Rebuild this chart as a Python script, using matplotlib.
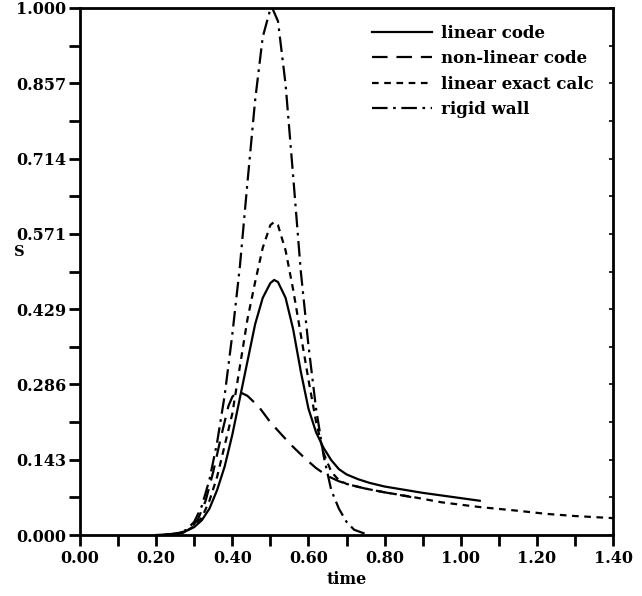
import matplotlib
matplotlib.use("Agg")
import matplotlib.pyplot as plt
from matplotlib.ticker import MultipleLocator, FixedLocator

# ---- data ----
lin_code_x = [0.20, 0.25, 0.28, 0.30, 0.32, 0.34, 0.36, 0.38, 0.40, 0.42, 0.44, 0.46,
              0.48, 0.50, 0.51, 0.52, 0.54, 0.56, 0.58, 0.60, 0.62, 0.64, 0.66, 0.68,
              0.70, 0.73, 0.76, 0.80, 0.85, 0.90, 0.95, 1.00, 1.05]
lin_code_y = [0.0, 0.002, 0.008, 0.015, 0.028, 0.050, 0.085, 0.130, 0.190, 0.260, 0.330, 0.400,
              0.450, 0.478, 0.484, 0.480, 0.450, 0.390, 0.310, 0.240, 0.195, 0.165, 0.142, 0.125,
              0.115, 0.106, 0.099, 0.092, 0.086, 0.080, 0.075, 0.070, 0.065]

nonlin_x = [0.24, 0.27, 0.29, 0.31, 0.33, 0.35, 0.37, 0.39, 0.40, 0.41, 0.42, 0.44, 0.47,
            0.50, 0.53, 0.56, 0.59, 0.62, 0.65, 0.68, 0.71, 0.75, 0.80, 0.87]
nonlin_y = [0.0, 0.004, 0.012, 0.030, 0.065, 0.120, 0.185, 0.245, 0.262, 0.270, 0.271, 0.264, 0.243,
            0.214, 0.190, 0.167, 0.146, 0.127, 0.112, 0.102, 0.095, 0.088, 0.081, 0.072]

exact_x = [0.22, 0.26, 0.28, 0.30, 0.32, 0.34, 0.36, 0.38, 0.40, 0.42, 0.44, 0.46, 0.48,
           0.50, 0.51, 0.52, 0.54, 0.56, 0.58, 0.60, 0.62, 0.64, 0.66, 0.68, 0.70, 0.75,
           0.80, 0.875, 0.95, 1.05, 1.15, 1.226, 1.30, 1.40]
exact_y = [0.0, 0.003, 0.008, 0.017, 0.033, 0.065, 0.110, 0.170, 0.230, 0.320, 0.410, 0.480, 0.545,
           0.588, 0.594, 0.588, 0.540, 0.465, 0.380, 0.295, 0.215, 0.155, 0.120, 0.104, 0.097, 0.088,
           0.081, 0.072, 0.062, 0.053, 0.046, 0.040, 0.036, 0.032]

rigid_x = [0.22, 0.26, 0.28, 0.30, 0.32, 0.34, 0.36, 0.38, 0.40, 0.42, 0.44, 0.46, 0.48,
           0.50, 0.505, 0.52, 0.54, 0.56, 0.58, 0.60, 0.62, 0.64, 0.66, 0.68, 0.70, 0.72, 0.75]
rigid_y = [0.0, 0.004, 0.010, 0.025, 0.055, 0.105, 0.175, 0.265, 0.380, 0.510, 0.670, 0.825, 0.945,
           0.998, 1.0, 0.975, 0.855, 0.680, 0.500, 0.360, 0.240, 0.150, 0.085, 0.050, 0.025, 0.010, 0.002]

labels = ["linear code", "non-linear code", "linear exact calc", "rigid wall"]
ytick_vals = [0.0, 1/7, 2/7, 3/7, 4/7, 5/7, 6/7, 1.0]
ytick_labels = ["0.000", "0.143", "0.286", "0.429", "0.571", "0.714", "0.857", "1.000"]
xtick_vals = [0.0, 0.2, 0.4, 0.6, 0.8, 1.0, 1.2, 1.4]
xtick_labels = ["0.00", "0.20", "0.40", "0.60", "0.80", "1.00", "1.20", "1.40"]

plt.rcParams['font.family'] = ['DejaVu Serif']
plt.rcParams['font.weight'] = 'bold'

fig = plt.figure(figsize=(6.42, 5.96), dpi=100)
ax = fig.add_axes([80/642, 1-535/596, (613-80)/642, (535-8)/596])

lw = 1.6
ax.plot(lin_code_x, lin_code_y, color='black', lw=lw, label=labels[0])
ax.plot(nonlin_x, nonlin_y, color='black', lw=lw, dashes=(7, 4), label=labels[1])
ax.plot(exact_x, exact_y, color='black', lw=lw, dashes=(3, 2.5), label=labels[2])
ax.plot(rigid_x, rigid_y, color='black', lw=lw, dashes=(7, 2.5, 1.2, 2.5), label=labels[3])

ax.set_xlim(0, 1.4)
ax.set_ylim(0, 1.0)
ax.xaxis.set_major_locator(FixedLocator(xtick_vals))
ax.set_xticklabels(xtick_labels)
ax.xaxis.set_minor_locator(MultipleLocator(0.1))
ax.yaxis.set_major_locator(FixedLocator(ytick_vals))
ax.set_yticklabels(ytick_labels)
ax.yaxis.set_minor_locator(MultipleLocator(1/14))

ax.tick_params(which='both', direction='out', length=8, width=2, labelsize=11.5)
ax.tick_params(axis='x', pad=3)
ax.tick_params(axis='y', pad=2)
for s in ax.spines.values():
    s.set_linewidth(2)

# small inward ticks on right spine
sec = ax.secondary_yaxis('right')
sec.yaxis.set_major_locator(MultipleLocator(1/14))
sec.tick_params(direction='in', length=3, width=1.2, labelright=False)
sec.spines['right'].set_visible(False)

ax.set_xlabel("time", fontsize=11.5, fontweight='bold', labelpad=3)
fig.text(19/642, 1-252/596, "S", fontsize=10.5, fontweight='bold', ha='center', va='center')

leg = ax.legend(loc='upper right', bbox_to_anchor=(0.982, 0.987), frameon=False,
                fontsize=12, handlelength=3.6, handletextpad=0.5, labelspacing=0.5,
                borderaxespad=0.2)

fig.savefig("out.png", dpi=100)
